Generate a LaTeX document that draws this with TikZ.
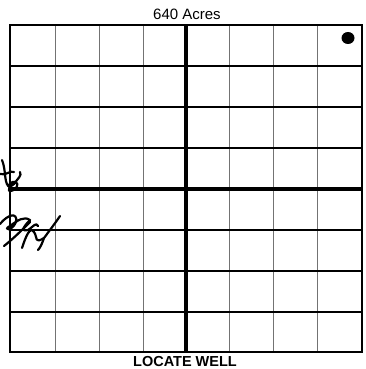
\documentclass[tikz,border=0pt]{standalone}
\usepackage{fontspec}
\setmainfont{Liberation Sans}
\tikzset{
  thinline/.style={draw=black!55, line width=1pt},
  rowline/.style={draw=black, line width=2pt},
  mainline/.style={draw=black, line width=3.6pt},
  inkline/.style={draw=black, line width=2.2pt, line cap=round, line join=round},
}
\begin{document}
\begin{tikzpicture}[x=1pt,y=-1pt]
 \useasboundingbox (0,0) rectangle (365,369);
 % thin vertical lines
 \foreach \x in {55,99,143,229,273,317}{
    \draw [thinline] (\x,25) -- (\x,352);
 }
 % horizontal lines
 \foreach \y in {66,107,148,230,271,312}{
    \draw [rowline] (10,\y) -- (362,\y);
 }
 \draw [mainline] (186,25) -- (186,352);
 \draw [mainline] (10,189) -- (362,189);
 \draw [line width=2.4pt] (10,25) rectangle (362,352);
 \node (title) at (187,14.5) {\fontsize{15}{17}\selectfont 640 Acres};
 \node (caption) at (185,362) {\fontsize{14.5}{16}\selectfont\bfseries LOCATE WELL};
 \fill (348,38) ellipse (6.5 and 6);
 % handwritten mark
 \draw [inkline] (2,160) .. controls (6,170) and (4,180) .. (8,186)
    .. controls (14,178) and (20,182) .. (16,188) .. controls (10,194) and (4,190) .. (14,184)
    .. controls (18,178) and (22,176) .. (20,172);
 \draw [inkline] (0,174) .. controls (6,176) and (10,170) .. (14,172);
 \draw [inkline] (0,224) .. controls (8,214) and (18,212) .. (16,222)
    .. controls (12,232) and (2,230) .. (10,226) .. controls (18,220) and (24,216) .. (30,220)
    .. controls (24,226) and (20,232) .. (28,230) .. controls (34,226) and (36,222) .. (38,226);
 \draw [inkline] (4,246) .. controls (14,238) and (22,230) .. (30,222);
 \draw [inkline] (22,248) .. controls (26,236) and (30,226) .. (34,232)
    .. controls (38,238) and (34,244) .. (44,238) .. controls (50,230) and (56,222) .. (60,216);
 \draw [inkline] (44,238) .. controls (42,244) and (40,248) .. (38,250);
\end{tikzpicture}
\end{document}
